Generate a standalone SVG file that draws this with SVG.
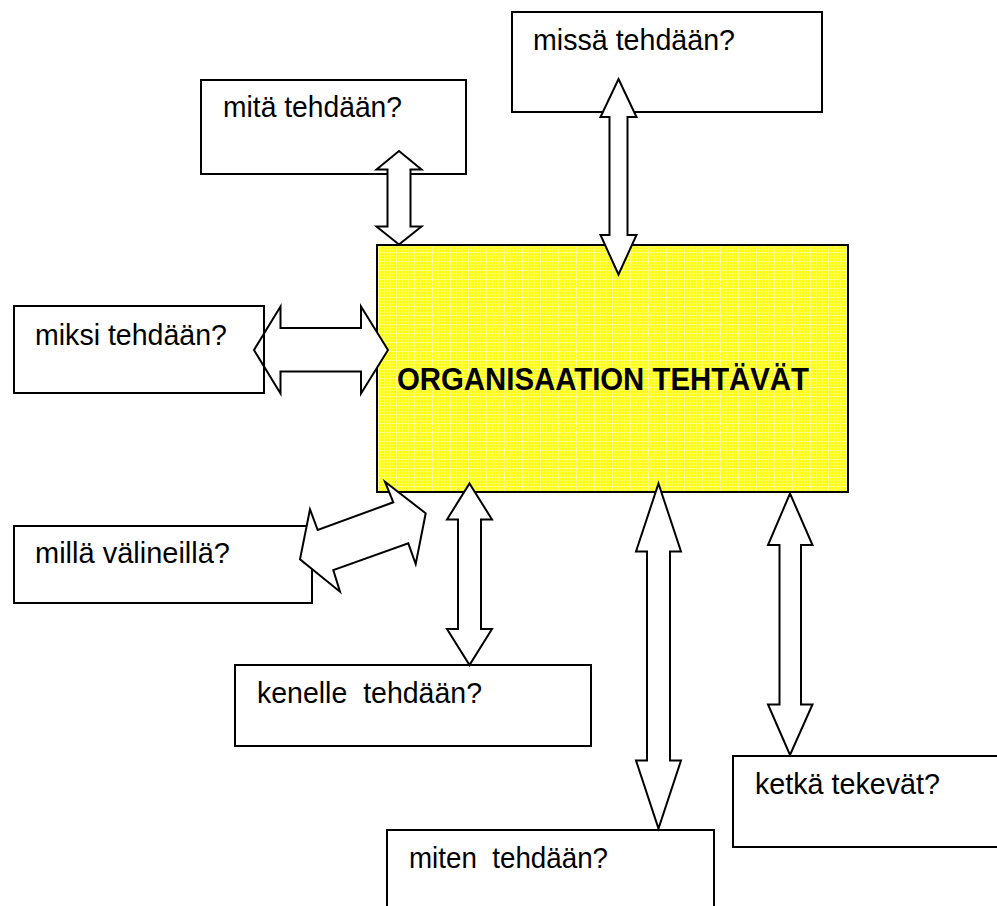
<svg xmlns="http://www.w3.org/2000/svg" width="997" height="906" viewBox="0 0 997 906">
<style>
.box{fill:#ffffff;stroke:#000000;stroke-width:2}
.arw{fill:#ffffff;stroke:#000000;stroke-width:2;stroke-linejoin:miter}
.lbl{font-family:"Liberation Sans",Arial,sans-serif;font-size:29.5px;fill:#000000;white-space:pre}
.ttl{font-family:"Liberation Sans",Arial,sans-serif;font-size:31px;font-weight:bold;fill:#000000}
</style>
<defs>
<pattern id="grid" width="9" height="9" patternUnits="userSpaceOnUse">
<rect width="9" height="9" fill="#ffff00"/>
<path d="M0 0.5H9M0.5 0V9" stroke="#ffffa0" stroke-width="1"/>
<path d="M0 3.5H9M3.5 0V9M0 6.5H9M6.5 0V9" stroke="#ffff50" stroke-width="1"/>
</pattern>
</defs>
<rect width="997" height="906" fill="#ffffff"/>

<g id="node-organisaatio">
<rect x="377" y="245" width="471" height="247" fill="url(#grid)" stroke="#000000" stroke-width="2"/>
<text class="ttl" x="397" y="390" textLength="412" lengthAdjust="spacingAndGlyphs">ORGANISAATION TEHTÄVÄT</text>
</g>

<g id="node-mita">
<rect class="box" x="201" y="80" width="265" height="94"/>
<text class="lbl" x="223" y="117" textLength="179" lengthAdjust="spacingAndGlyphs">mitä tehdään?</text>
</g>

<g id="node-missa">
<rect class="box" x="512" y="12" width="310" height="100"/>
<text class="lbl" x="533" y="50" textLength="202" lengthAdjust="spacingAndGlyphs">missä tehdään?</text>
</g>

<g id="node-milla">
<rect class="box" x="14" y="526" width="298" height="77"/>
<text class="lbl" x="35" y="563" textLength="195" lengthAdjust="spacingAndGlyphs">millä välineillä?</text>
</g>

<g id="node-kenelle">
<rect class="box" x="235" y="665" width="356" height="81"/>
<text class="lbl" x="257" y="703" textLength="225" lengthAdjust="spacingAndGlyphs" xml:space="preserve">kenelle  tehdään?</text>
</g>

<g id="node-miten">
<rect class="box" x="387" y="830" width="327" height="90"/>
<text class="lbl" x="409" y="868" textLength="199" lengthAdjust="spacingAndGlyphs" xml:space="preserve">miten  tehdään?</text>
</g>

<g id="node-ketka">
<rect class="box" x="733" y="756" width="280" height="91"/>
<text class="lbl" x="755" y="794" textLength="185" lengthAdjust="spacingAndGlyphs">ketkä tekevät?</text>
</g>

<g id="connectors">
<polygon class="arw" points="399,151 421.5,169.5 410.5,169.5 410.5,226.5 421.5,226.5 399,244.5 376.5,226.5 387.5,226.5 387.5,169.5 376.5,169.5"/>
<polygon class="arw" points="618.5,79 636.5,117 627.5,117 627.5,235 636.5,235 618.5,274.5 600.5,235 609.5,235 609.5,117 600.5,117"/>
<polygon class="arw" points="254,350 280.5,306.5 280.5,328 361,328 361,306.5 388,350 361,393.5 361,371.5 280.5,371.5 280.5,393.5"/>
<polygon class="arw" points="385,481.7 425.7,513.3 415.7,564 408.3,543.3 333.3,570 340,591.7 300,559.3 310,509.3 317.7,530 393.3,502.3"/>
<polygon class="arw" points="469.5,483.5 492,519.5 481,519.5 481,629 492,629 469.5,665 447,629 458,629 458,519.5 447,519.5"/>
<polygon class="arw" points="658.5,483.5 681,551.5 670,551.5 670,760.5 681,760.5 658.5,828.5 636,760.5 647,760.5 647,551.5 636,551.5"/>
<polygon class="arw" points="790,493.5 812.5,545 801,545 801,704.5 812.5,704.5 790,755 768,704.5 779.5,704.5 779.5,545 768,545"/>
</g>

<g id="node-miksi">
<rect x="14" y="306" width="250" height="87" fill="none" stroke="#000000" stroke-width="2"/>
<text class="lbl" x="35" y="345" textLength="192" lengthAdjust="spacingAndGlyphs">miksi tehdään?</text>
</g>
</svg>
